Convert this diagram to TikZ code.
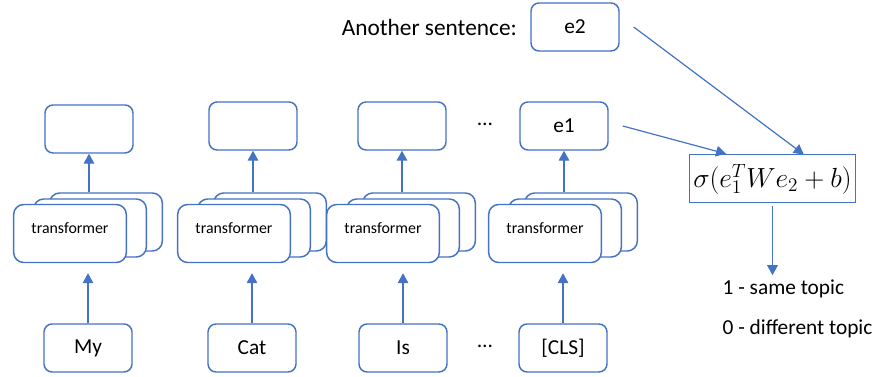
\documentclass[tikz,border=0pt]{standalone}
\usepackage{fontspec}
\setmainfont{Carlito}
\usetikzlibrary{arrows.meta, positioning}
\definecolor{msblue}{HTML}{4472C4}

\begin{document}
\begin{tikzpicture}[x=0.75pt, y=-0.75pt,
    box/.style={draw=msblue, line width=1.1pt, rounded corners=6pt, fill=white,
        minimum width=66pt, minimum height=36pt, inner sep=0pt, font=\fontsize{16}{19}\selectfont},
    layer/.style={draw=msblue, line width=1.1pt, rounded corners=7.5pt, fill=white,
        minimum width=84.5pt, minimum height=43.5pt, inner sep=0pt,
        text height=8pt, text depth=8pt, font=\fontsize{11.9}{14}\selectfont},
    arr/.style={draw=msblue, line width=0.9pt, -{Triangle[length=7.5pt, width=8pt]}},
    txt/.style={font=\fontsize{16}{19}\selectfont}]
            \useasboundingbox (0,0) rectangle (876,377);

            %output nodes
            \node[box] (out1) at (89, 129) {};
            \node[box] (out2) at (253, 126) {};
            \node[box] (out3) at (402, 126) {};
            \node[box] (out4) at (564, 126) {e1};
            \node[txt] (dots1) at (485, 124) {\textellipsis};

            %transformer stacks
            \node[layer] (lay1c) at (106, 222) {};
            \node[layer] (lay1b) at (90, 228) {};
            \node[layer] (lay1a) at (70, 233.5) {transformer};
            \node[layer] (lay2c) at (270, 222) {};
            \node[layer] (lay2b) at (254, 228) {};
            \node[layer] (lay2a) at (234, 233.5) {transformer};
            \node[layer] (lay3c) at (419, 222) {};
            \node[layer] (lay3b) at (403, 228) {};
            \node[layer] (lay3a) at (383, 233.5) {transformer};
            \node[layer] (lay4c) at (581, 222) {};
            \node[layer] (lay4b) at (565, 228) {};
            \node[layer] (lay4a) at (545, 233.5) {transformer};

            %input nodes
            \node[box] (in1) at (88, 348) {My};
            \node[box] (in2) at (252, 348) {Cat};
            \node[box] (in3) at (403, 348) {Is};
            \node[box] (in4) at (563, 348) {[CLS]};
            \node[txt] (dots2) at (485, 346) {\textellipsis};

            %second sentence
            \node[box] (e2) at (575, 27) {e2};
            \node[left=6.5pt of e2, font=\fontsize{17.5}{21}\selectfont] (another) {Another sentence:};

            %classifier
            \node[draw=msblue, line width=0.75pt, minimum width=125pt, minimum height=36pt,
                inner sep=0pt, font=\fontsize{21}{25}\selectfont] (sig) at (772.5, 179) {$\sigma(e_1^TWe_2+b)$};
            \node[txt, anchor=west] (same) at (718, 289) {1 - same topic};
            \node[txt, anchor=west] (diff) at (718, 329) {0 - different topic};

            %edges
            \draw[arr, shorten >=7.5pt] (in1.north) -- (in1.north |- lay1a.south);
            \draw[arr, shorten >=7.5pt] (in2.north) -- (in2.north |- lay2a.south);
            \draw[arr, shorten >=7.5pt] (in3.north) -- (in3.north |- lay3a.south);
            \draw[arr, shorten >=7.5pt] (in4.north) -- (in4.north |- lay4a.south);
            \draw[arr] (out1.south |- lay1c.north) -- (out1.south);
            \draw[arr] (out2.south |- lay2c.north) -- (out2.south);
            \draw[arr] (out3.south |- lay3c.north) -- (out3.south);
            \draw[arr] (out4.south |- lay4c.north) -- (out4.south);
            \draw[arr, shorten >=2pt] ([xshift=10.5pt]out4.east) -- ([xshift=30pt]sig.north west);
            \draw[arr] ([xshift=10.5pt]e2.east) -- ([xshift=23.5pt]sig.north);
            \draw[arr, shorten <=2pt] (sig.south) -- (sig.south |- same.north);
        \end{tikzpicture}
\end{document}
